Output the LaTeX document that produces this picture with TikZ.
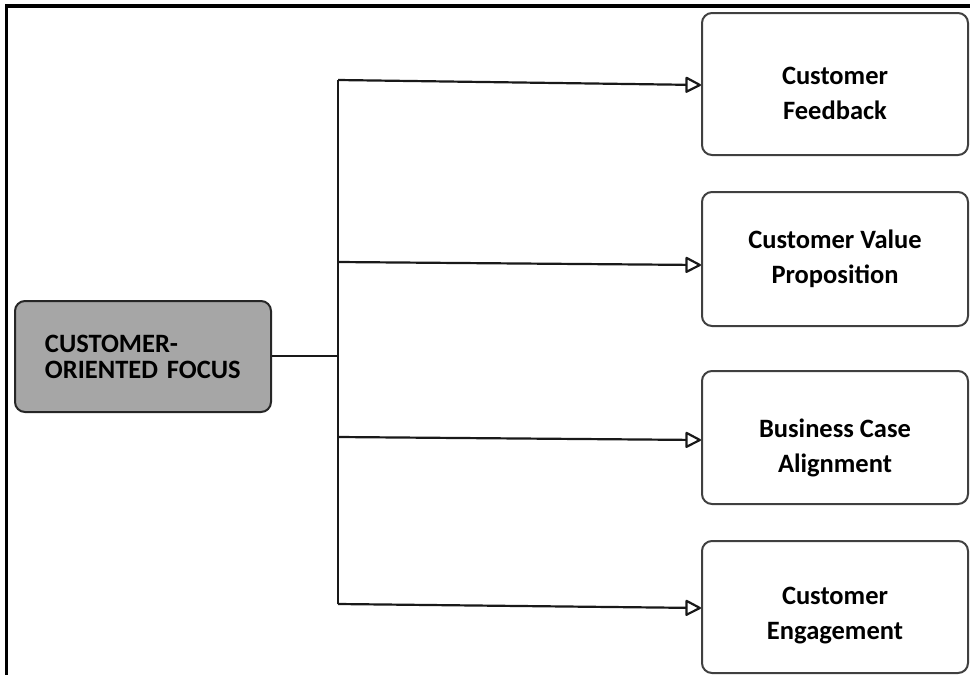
\documentclass[tikz,border=0pt]{standalone}
\usepackage{fontspec}
\setmainfont{Carlito}
\usetikzlibrary{arrows.meta}
% two centred lines; #1 raises the first baseline above the node centre
\newcommand\leaftext[2]{\raisebox{#1}[0pt][0pt]{\begin{tabular}[t]{@{}c@{}}#2\end{tabular}}}
\begin{document}
\begin{tikzpicture}[x=1pt,y=-1pt,
  frameline/.style={line width=3.4pt,black},
  leafbox/.style={draw=black!75,line width=2pt,rounded corners=10pt,fill=white,
    minimum width=266pt,inner sep=0pt,
    font=\bfseries\fontsize{26.5}{35}\selectfont},
  rootbox/.style={draw=black!85,line width=2pt,rounded corners=10pt,fill=black!35,
    minimum width=256pt,minimum height=111pt,inner xsep=30pt,inner ysep=0pt,
    text width=196pt,align=left,font=\bfseries\fontsize{26.5}{26}\selectfont},
  link/.style={line width=2.2pt,black!90},
  branch/.style={link,-{Triangle[open,round,length=17pt,width=17pt,line width=2.2pt]}}]
  \useasboundingbox (0,0) rectangle (970,675);

  % frame edges
  \draw[frameline] (6.5,675) -- (6.5,6) -- (970,6);

  % boxes
  \node[rootbox] (root) at (143,356.5) {CUSTOMER-\\ORIENTED FOCUS};
  \node[leafbox,minimum height=142pt] (b1) at (835,84)
    {\leaftext{-0.5pt}{Customer\\Feedback}};
  \node[leafbox,minimum height=134pt] (b2) at (835,259)
    {\leaftext{10.5pt}{Customer Value\\Proposition}};
  \node[leafbox,minimum height=133pt] (b3) at (835,437.5)
    {\leaftext{0pt}{Business Case\\Alignment}};
  \node[leafbox,minimum height=132pt] (b4) at (835,607)
    {\leaftext{2.5pt}{Customer\\Engagement}};

  % trunk
  \coordinate (j) at (338,356);
  \coordinate (t1) at (338,80);
  \coordinate (t2) at (338,262);
  \coordinate (t3) at (338,437);
  \coordinate (t4) at (338,604);
  \draw[link] (root.east |- j) -- (j);
  \draw[link] (t1) -- (t4);

  % branches
  \draw[branch] (t1) -- ([yshift=-1pt]b1.west);
  \draw[branch] (t2) -- ([yshift=-6pt]b2.west);
  \draw[branch] (t3) -- ([yshift=-2.5pt]b3.west);
  \draw[branch] (t4) -- ([yshift=-1pt]b4.west);
\end{tikzpicture}
\end{document}
